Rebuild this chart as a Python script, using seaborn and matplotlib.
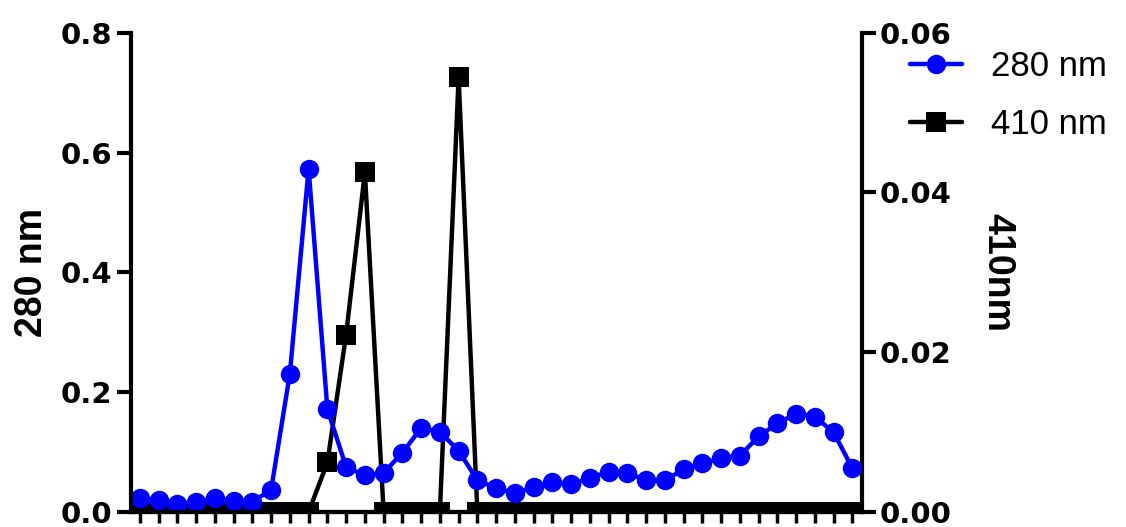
'''Absorbance profile of the column fractions at 280 nm and 410 nm.'''

import seaborn as sns
import pandas as pd
import matplotlib.pyplot as plt
from matplotlib import use

use('agg')

# fraction index along the x axis (no labels shown on the axis)
fractions = list(range(39))

# absorbance at 280 nm (left axis)
abs_280 = [0.023, 0.020, 0.013, 0.017, 0.023, 0.019, 0.017, 0.037, 0.231, 0.573,
           0.172, 0.075, 0.061, 0.065, 0.099, 0.140, 0.134, 0.102, 0.053, 0.040,
           0.031, 0.042, 0.050, 0.046, 0.057, 0.067, 0.065, 0.053, 0.053, 0.071,
           0.081, 0.090, 0.094, 0.126, 0.148, 0.164, 0.159, 0.133, 0.073]

# absorbance at 410 nm (right axis)
abs_410 = [0, 0, 0, 0, 0, 0, 0, 0, 0, 0,
           0.0062, 0.0222, 0.0425, 0, 0, 0, 0, 0.0544, 0, 0,
           0, 0, 0, 0, 0, 0, 0, 0, 0, 0,
           0, 0, 0, 0, 0, 0, 0, 0, 0]

df = pd.DataFrame({'fraction': fractions, '280 nm': abs_280, '410 nm': abs_410})

sns.set_theme(style='ticks')
plt.rcParams['font.family'] = ['Liberation Sans', 'DejaVu Sans']
plt.rcParams['text.color'] = 'black'
plt.rcParams['axes.labelcolor'] = 'black'

tick_font = {'family': 'DejaVu Sans', 'weight': 'bold', 'size': 21}
label_font = {'family': ['Liberation Sans', 'DejaVu Sans'], 'weight': 'bold', 'size': 27}

fig = plt.figure(figsize=(11.26, 5.27), dpi=100)
ax = fig.add_axes([0.1159, 0.0285, 0.6494, 0.9095])
ax2 = ax.twinx()

line_kw = dict(linewidth=3.2, markersize=14, markeredgewidth=0)

sns.lineplot(data=df, x='fraction', y='410 nm', ax=ax2, color='black', marker='s',
             markeredgecolor='black', label='410 nm', legend=False, **line_kw)
sns.lineplot(data=df, x='fraction', y='280 nm', ax=ax, color='blue', marker='o',
             markeredgecolor='blue', label='280 nm', legend=False, **line_kw)

# blue series drawn on top of the black one
ax.set_zorder(ax2.get_zorder() + 1)
ax.patch.set_visible(False)

ax.set_xlim(-0.5, 38.5)
ax.set_ylim(0, 0.8)
ax2.set_ylim(0, 0.06)
ax.set_xticks(fractions)
ax.set_xticklabels([])
ax.set_yticks([0, 0.2, 0.4, 0.6, 0.8])
ax.set_yticklabels(['0.0', '0.2', '0.4', '0.6', '0.8'], fontdict=tick_font)
ax2.set_yticks([0, 0.02, 0.04, 0.06])
ax2.set_yticklabels(['0.00', '0.02', '0.04', '0.06'], fontdict=tick_font)

ax.set_xlabel('')
ax.set_ylabel('280 nm', fontdict=label_font, labelpad=8)
ax2.set_ylabel('410nm', fontdict=label_font, rotation=270, va='bottom', labelpad=20)

for a in (ax, ax2):
    for side in ('left', 'right', 'bottom'):
        a.spines[side].set_linewidth(3)
        a.spines[side].set_color('black')
    a.spines['top'].set_visible(False)
    a.tick_params(axis='y', width=3, length=10, pad=3, colors='black')
ax.tick_params(axis='x', width=2.5, length=8, colors='black')
ax2.spines['left'].set_visible(False)
ax.spines['right'].set_visible(False)

handles = ax.get_lines()[:1] + ax2.get_lines()[:1]
fig.legend(handles, ['280 nm', '410 nm'], loc='upper left',
           bbox_to_anchor=(0.808, 0.905), frameon=False, fontsize=25,
           handlelength=1.5, handletextpad=0.85, labelspacing=0.72,
           borderpad=0, borderaxespad=0)

fig.savefig('out.png', dpi=100)
